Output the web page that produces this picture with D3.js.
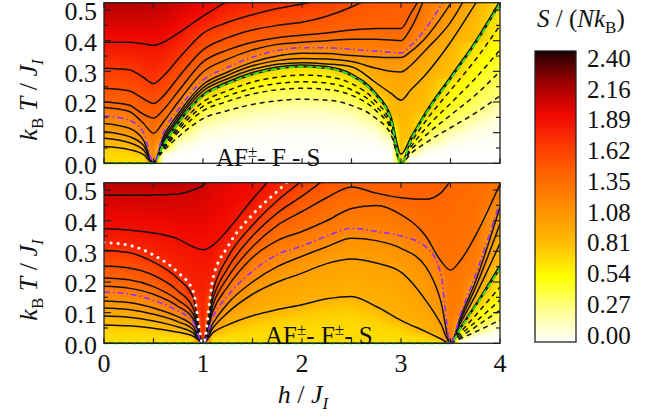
<!DOCTYPE html>
<html>
<head>
<meta charset="utf-8">
<script src="https://cdn.jsdelivr.net/npm/d3@7"></script>
<style>
  body { margin: 0; background: #fff; }
  svg text { font-family: "Liberation Serif", "DejaVu Serif", serif; fill: #111; }
</style>
</head>
<body>
<svg id="chart" width="659" height="418" font-family="Liberation Serif, DejaVu Serif, serif"></svg>
<script>
  var n = null

  // axis ticks and colour bar
  var hTicks = [0, 1, 2, 3, 4]
  var tTicks = [0, 0.1, 0.2, 0.3, 0.4, 0.5]
  var barLabels = ["2.40", "2.16", "1.89", "1.62", "1.35", "1.08", "0.81", "0.54", "0.27", "0.00"]
  var barStops = [0, 0.27, 0.54, 0.81, 1.08, 1.35, 1.62, 1.89, 2.16, 2.40, 2.43]
  var barColors = ["#ffffff", "#ffff8c", "#ffff00", "#ffc000", "#ff9400", "#ff6c00",
    "#ff3e00", "#f00800", "#a00000", "#300000", "#000000"]

  // special isentropes
  var greenLevel = 0.69
  var purpleLevel = 1.2
  var whiteLevel = 1.75

  // ---- upper panel: AF± - F - S ----
  var topH = [0, 0.25, 0.4, 0.5, 0.6, 0.75, 1, 1.25, 1.5, 1.75, 2, 2.25, 2.5, 2.75, 2.9, 3, 3.1, 3.25, 3.5, 3.75, 4]
  var topS0 = [0.69, 0.69, 0.69, 1.2, 0, 0, 0, 0, 0, 0, 0, 0, 0, 0, 0, 0.69, 0, 0, 0, 0, 0]
  var topS1 = [2.1, 2.1, 2.08, 2.07, 2.06, 2.0, 1.9, 1.83, 1.72, 1.69, 1.66, 1.6, 1.52, 1.47, 1.45, 1.43, 1.42, 1.26, 1.105, 0.905, 0.7]
  var topLevels = [0.3, 0.4, 0.5, 0.6, 0.69, 0.8, 0.9, 1.0, 1.1, 1.2, 1.3, 1.4, 1.5, 1.65, 1.85]
  var topT = [
    [n, n, n, 0, 0.04, 0.086, 0.146, 0.172, 0.192, 0.204, 0.209, 0.206, 0.189, 0.146, 0.093, 0, 0.032, 0.067, 0.116, 0.164, 0.22],
    [n, n, n, 0, 0.046, 0.101, 0.171, 0.202, 0.226, 0.24, 0.245, 0.241, 0.222, 0.171, 0.109, 0, 0.043, 0.091, 0.157, 0.222, 0.3],
    [n, n, n, 0, 0.049, 0.11, 0.186, 0.22, 0.245, 0.26, 0.266, 0.262, 0.24, 0.185, 0.118, 0, 0.053, 0.114, 0.195, 0.277, 0.37],
    [n, n, n, 0, 0.053, 0.118, 0.2, 0.237, 0.265, 0.281, 0.288, 0.283, 0.26, 0.2, 0.127, 0, 0.065, 0.138, 0.238, 0.337, 0.45],
    [0, 0, 0, 0, 0.06, 0.13, 0.22, 0.26, 0.29, 0.308, 0.315, 0.31, 0.285, 0.22, 0.14, 0, 0.075, 0.16, 0.275, 0.39, 0.52],
    [0.055, 0.045, 0.028, 0, 0.063, 0.134, 0.225, 0.266, 0.296, 0.314, 0.321, 0.316, 0.292, 0.228, 0.152, 0.03, 0.085, 0.168, 0.283, 0.398, 0.53],
    [0.082, 0.068, 0.043, 0, 0.07, 0.143, 0.236, 0.276, 0.306, 0.323, 0.328, 0.324, 0.315, 0.262, 0.228, 0.206, 0.24, 0.29, 0.395, 0.52, 0.65],
    [0.103, 0.088, 0.058, 0, 0.078, 0.152, 0.246, 0.287, 0.318, 0.335, 0.342, 0.34, 0.332, 0.31, 0.3, 0.298, 0.32, 0.37, 0.46, 0.6, n],
    [0.13, 0.115, 0.075, 0, 0.087, 0.162, 0.257, 0.298, 0.33, 0.35, 0.359, 0.358, 0.352, 0.347, 0.345, 0.345, 0.365, 0.41, 0.52, n, n],
    [0.155, 0.141, 0.1, 0, 0.1, 0.175, 0.271, 0.313, 0.346, 0.368, 0.377, 0.377, 0.372, 0.366, 0.362, 0.36, 0.385, 0.44, 0.57, n, n],
    [0.182, 0.17, 0.13, 0.098, 0.135, 0.2, 0.298, 0.34, 0.37, 0.388, 0.395, 0.4, 0.405, 0.405, 0.402, 0.4, 0.44, 0.55, n, n, n],
    [0.2, 0.19, 0.16, 0.148, 0.175, 0.235, 0.331, 0.37, 0.395, 0.41, 0.418, 0.425, 0.435, 0.44, 0.44, 0.44, 0.49, 0.57, n, n, n],
    [0.245, 0.237, 0.21, 0.195, 0.22, 0.28, 0.37, 0.41, 0.435, 0.45, 0.46, 0.48, 0.51, 0.55, n, n, n, n, n, n, n],
    [0.31, 0.305, 0.28, 0.26, 0.285, 0.34, 0.424, 0.46, 0.485, 0.505, 0.52, 0.535, n, n, n, n, n, n, n, n, n],
    [0.395, 0.395, 0.39, 0.385, 0.395, 0.425, 0.48, 0.53, n, n, n, n, n, n, n, n, n, n, n, n, n]
  ]

  // ---- lower panel: AF± - F± - S ----
  var botH = [0, 0.25, 0.5, 0.75, 0.9, 1, 1.1, 1.25, 1.5, 1.75, 2, 2.25, 2.5, 2.75, 3, 3.25, 3.4, 3.5, 3.6, 3.75, 4]
  var botS0 = [0.69, 0.69, 0.69, 0.69, 0.69, 1.75, 0.69, 0.69, 0.69, 0.69, 0.69, 0.69, 0.69, 0.69, 0.69, 0.69, 0.69, 1.25, 0, 0, 0]
  var botS1 = [2.08, 2.08, 2.07, 2.06, 2.04, 2.01, 1.96, 1.93, 1.88, 1.77, 1.64, 1.49, 1.41, 1.43, 1.43, 1.43, 1.42, 1.39, 1.37, 1.36, 1.305]
  var botLevels = [0.3, 0.4, 0.5, 0.6, 0.69, 0.8, 0.9, 1.0, 1.1, 1.2, 1.3, 1.4, 1.5, 1.65, 1.75, 1.85, 2.0]
  var botT = [
    [n, n, n, n, n, n, n, n, n, n, n, n, n, n, n, n, n, 0, 0.015, 0.037, 0.076],
    [n, n, n, n, n, n, n, n, n, n, n, n, n, n, n, n, n, 0, 0.021, 0.053, 0.108],
    [n, n, n, n, n, n, n, n, n, n, n, n, n, n, n, n, n, 0, 0.028, 0.069, 0.141],
    [n, n, n, n, n, n, n, n, n, n, n, n, n, n, n, n, n, 0, 0.036, 0.09, 0.184],
    [0, 0, 0, 0, 0, 0, 0, 0, 0, 0, 0, 0, 0, 0, 0, 0, 0, 0, 0.048, 0.12, 0.244],
    [0.06, 0.057, 0.049, 0.036, 0.023, 0, n, n, n, n, n, n, n, n, n, n, n, 0, 0.052, 0.125, 0.255],
    [0.089, 0.085, 0.073, 0.053, 0.034, 0, 0.035, 0.06, 0.09, 0.11, 0.126, 0.145, 0.153, 0.12, 0.075, 0.038, 0.015, 0, 0.065, 0.155, 0.326],
    [0.115, 0.11, 0.095, 0.07, 0.045, 0, 0.05, 0.1, 0.16, 0.2, 0.229, 0.26, 0.275, 0.262, 0.232, 0.14, 0.065, 0, 0.075, 0.18, 0.39],
    [0.138, 0.133, 0.115, 0.086, 0.056, 0, 0.065, 0.13, 0.2, 0.25, 0.284, 0.315, 0.343, 0.335, 0.31, 0.25, 0.14, 0, 0.085, 0.2, 0.445],
    [0.167, 0.161, 0.14, 0.105, 0.07, 0, 0.085, 0.155, 0.235, 0.29, 0.317, 0.35, 0.375, 0.365, 0.35, 0.315, 0.23, 0, 0.095, 0.22, 0.462],
    [0.186, 0.18, 0.16, 0.12, 0.08, 0, 0.105, 0.185, 0.28, 0.335, 0.365, 0.4, 0.44, 0.45, 0.42, 0.35, 0.27, 0.239, 0.27, 0.35, 0.52],
    [0.213, 0.207, 0.185, 0.14, 0.095, 0, 0.125, 0.215, 0.315, 0.385, 0.43, 0.475, 0.51, 0.49, 0.475, 0.47, 0.49, 0.53, n, n, n],
    [0.252, 0.246, 0.222, 0.17, 0.115, 0, 0.145, 0.245, 0.35, 0.425, 0.48, 0.54, n, n, n, n, n, n, n, n, n],
    [0.304, 0.296, 0.265, 0.21, 0.15, 0, 0.17, 0.28, 0.385, 0.465, 0.53, n, n, n, n, n, n, n, n, n, n],
    [0.329, 0.32, 0.288, 0.23, 0.17, 0, 0.21, 0.315, 0.42, 0.496, 0.57, n, n, n, n, n, n, n, n, n, n],
    [0.374, 0.37, 0.36, 0.34, 0.315, 0.305, 0.32, 0.37, 0.47, 0.56, n, n, n, n, n, n, n, n, n, n, n],
    [0.483, 0.483, 0.484, 0.487, 0.5, 0.515, 0.55, n, n, n, n, n, n, n, n, n, n, n, n, n, n]
  ]

  var tMax = 0.524
  var svg = d3.select("#chart")
  var x = d3.scaleLinear().domain([0, 4]).range([104, 500])
  var color = d3.scaleLinear().domain(barStops).range(barColors).clamp(true)

  var panels = [
    { id: "top", h: topH, s0: topS0, s1: topS1, lv: topLevels, t: topT, bottom: 163.3, top: 2.7, label: ["AF", "±", "- F - S"], lx: 216, ly: 157 },
    { id: "bot", h: botH, s0: botS0, s1: botS1, lv: botLevels, t: botT, bottom: 343.3, top: 182.7, label: ["AF", "±", "- F", "±", "- S"], lx: 265, ly: 335 }
  ]

  // entropy against temperature in one column, through the isentrope crossings
  function profile(p, i) {
    var pts = [[0, p.s0[i]], [tMax, p.s1[i]]]
    p.lv.forEach(function (level, k) {
      if (p.t[k][i] != null) pts.push([p.t[k][i], level])
    })
    pts.sort(function (a, b) { return a[0] - b[0] || a[1] - b[1] })
    var out = []
    pts.forEach(function (q) {
      var last = out[out.length - 1]
      if (last && q[0] === last[0]) { last[1] = Math.max(last[1], q[1]); return }
      if (last && q[1] <= last[1]) return
      out.push(q.slice())
    })
    var lin = d3.scaleLinear().domain(out.map(function (q) { return q[0] }))
      .range(out.map(function (q) { return q[1] })).clamp(true)
    // activated (slow) onset below the first isentrope
    return function (T) {
      if (out.length > 1 && T < out[1][0]) {
        var u = T / out[1][0]
        return out[0][1] + (out[1][1] - out[0][1]) * u * u * u
      }
      return lin(T)
    }
  }

  function lineStyle(level) {
    if (level === greenLevel) return "green"
    if (level === purpleLevel) return "purple"
    if (level === whiteLevel) return "white"
    return level < greenLevel ? "dashed" : "solid"
  }

  panels.forEach(function (p) {
    var y = d3.scaleLinear().domain([0, tMax]).range([p.bottom, p.top])
    var cw = Math.round(x(4) - x(0))
    var ch = Math.round(p.bottom - p.top)

    // heat map
    var cols = p.h.map(function (_, i) {
      var f = profile(p, i)
      return d3.range(ch).map(function (r) { return f(y.invert(p.top + (r + 0.5) * (p.bottom - p.top) / ch)) })
    })
    var canvas = document.createElement("canvas")
    canvas.width = cw
    canvas.height = ch
    var ctx = canvas.getContext("2d")
    var img = ctx.createImageData(cw, ch)
    for (var c = 0; c < cw; c++) {
      var h = x.invert(x(0) + c + 0.5)
      var i = Math.min(Math.max(d3.bisectRight(p.h, h) - 1, 0), p.h.length - 2)
      var w = (h - p.h[i]) / (p.h[i + 1] - p.h[i])
      for (var r = 0; r < ch; r++) {
        var s = cols[i][r] * (1 - w) + cols[i + 1][r] * w
        var rgb = d3.rgb(color(s))
        var k = (r * cw + c) * 4
        img.data[k] = rgb.r
        img.data[k + 1] = rgb.g
        img.data[k + 2] = rgb.b
        img.data[k + 3] = 255
      }
    }
    ctx.putImageData(img, 0, 0)
    svg.append("image")
      .attr("x", x(0)).attr("y", p.top)
      .attr("width", x(4) - x(0)).attr("height", p.bottom - p.top)
      .attr("preserveAspectRatio", "none")
      .attr("href", canvas.toDataURL())

    svg.append("clipPath").attr("id", "clip-" + p.id)
      .append("rect")
      .attr("x", x(0)).attr("y", p.top)
      .attr("width", x(4) - x(0)).attr("height", p.bottom - p.top + 2)

    // isentropes
    var line = d3.line()
      .defined(function (d) { return d[1] != null })
      .x(function (d) { return x(d[0]) })
      .y(function (d) { return y(d[1]) })
      .curve(d3.curveMonotoneX)
    var g = svg.append("g").attr("clip-path", "url(#clip-" + p.id + ")").attr("fill", "none")
    var order = { dashed: 0, solid: 1, green: 2, purple: 3, white: 4 }
    var rows = p.lv.map(function (level, k) {
      return { level: level, style: lineStyle(level), pts: p.h.map(function (hh, i) { return [hh, p.t[k][i]] }) }
    }).sort(function (a, b) { return order[a.style] - order[b.style] })

    rows.forEach(function (row) {
      var d = line(row.pts)
      if (row.style === "dashed") {
        g.append("path").attr("d", d).attr("stroke", "#111").attr("stroke-width", 1.5).attr("stroke-dasharray", "5,4")
      } else if (row.style === "solid") {
        g.append("path").attr("d", d).attr("stroke", "#111").attr("stroke-width", 1.5)
      } else if (row.style === "green") {
        g.append("path").attr("d", d).attr("stroke", "#111").attr("stroke-width", 1.5)
        g.append("path").attr("d", d).attr("stroke", "#33dd22").attr("stroke-width", 2).attr("stroke-dasharray", "6,3")
      } else if (row.style === "purple") {
        g.append("path").attr("d", d).attr("stroke", "#9933ee").attr("stroke-width", 1.7).attr("stroke-dasharray", "6,3,1.5,3")
      } else {
        g.append("path").attr("d", d).attr("stroke", "#fff").attr("stroke-width", 3)
          .attr("stroke-linecap", "round").attr("stroke-dasharray", "0.1,7")
      }
    })

    // frame and ticks
    svg.append("rect")
      .attr("x", x(0)).attr("y", p.top)
      .attr("width", x(4) - x(0)).attr("height", p.bottom - p.top)
      .attr("fill", "none").attr("stroke", "#222").attr("stroke-width", 1.3)
    var tk = svg.append("g").attr("stroke", "#222").attr("stroke-width", 1.2)
    d3.range(0, 4.001, 0.5).forEach(function (v) {
      tk.append("line").attr("x1", x(v)).attr("x2", x(v)).attr("y1", p.bottom).attr("y2", p.bottom - 5)
      tk.append("line").attr("x1", x(v)).attr("x2", x(v)).attr("y1", p.top).attr("y2", p.top + 5)
    })
    d3.range(0, 0.5001, 0.05).forEach(function (v, j) {
      var len = j % 2 === 0 ? 7 : 4
      tk.append("line").attr("x1", x(0)).attr("x2", x(0) + len).attr("y1", y(v)).attr("y2", y(v))
      tk.append("line").attr("x1", x(4)).attr("x2", x(4) - len).attr("y1", y(v)).attr("y2", y(v))
    })

    svg.append("g").selectAll("text").data(tTicks).enter().append("text")
      .attr("x", 97).attr("y", function (d) { return y(d) })
      .attr("dy", "0.4em").attr("text-anchor", "end").attr("font-size", 26)
      .text(d3.format(".1f"))

    // y axis title
    var yt = svg.append("text")
      .attr("transform", "translate(37," + ((p.top + p.bottom) / 2 + 17) + ") rotate(-90)")
      .attr("text-anchor", "middle").attr("font-size", 26)
    yt.append("tspan").attr("font-style", "italic").text("k")
    yt.append("tspan").attr("font-size", 17).attr("dy", 6).text("B")
    yt.append("tspan").attr("font-style", "italic").attr("dy", -6).text(" T")
    yt.append("tspan").text(" / ")
    yt.append("tspan").attr("font-style", "italic").text("J")
    yt.append("tspan").attr("font-style", "italic").attr("font-size", 17).attr("dy", 6).text("I")

    // phase sequence label
    var lab = svg.append("text").attr("x", p.lx).attr("y", p.ly).attr("font-size", 25)
    p.label.forEach(function (part) {
      if (part === "±") lab.append("tspan").attr("font-size", 17).attr("dy", -9).text(part)
      else lab.append("tspan").attr("dy", lab.selectAll("tspan").size() ? 9 : 0).text(part)
    })
  })

  // x axis labels (lower panel)
  svg.append("g").selectAll("text").data(hTicks).enter().append("text")
    .attr("x", function (d) { return x(d) }).attr("y", 372)
    .attr("text-anchor", "middle").attr("font-size", 26)
    .text(function (d) { return d })

  var xt = svg.append("text").attr("x", 303).attr("y", 403).attr("text-anchor", "middle").attr("font-size", 26)
  xt.append("tspan").attr("font-style", "italic").text("h")
  xt.append("tspan").text(" / ")
  xt.append("tspan").attr("font-style", "italic").text("J")
  xt.append("tspan").attr("font-style", "italic").attr("font-size", 17).attr("dy", 6).text("I")

  // colour bar
  var barY = d3.scaleLinear().domain([0, 2.43]).range([342, 51])
  var grad = svg.append("defs").append("linearGradient").attr("id", "bar")
    .attr("x1", 0).attr("y1", 1).attr("x2", 0).attr("y2", 0)
  d3.range(0, 2.4301, 0.03).forEach(function (v) {
    grad.append("stop").attr("offset", v / 2.43).attr("stop-color", color(v))
  })
  svg.append("rect")
    .attr("x", 535).attr("y", barY(2.43)).attr("width", 41).attr("height", barY(0) - barY(2.43))
    .attr("fill", "url(#bar)").attr("stroke", "#222").attr("stroke-width", 1.3)
  var labelY = d3.scalePoint().domain(barLabels).range([58, 335])
  svg.append("g").selectAll("text").data(barLabels).enter().append("text")
    .attr("x", 587).attr("y", function (d) { return labelY(d) }).attr("dy", "0.35em")
    .attr("font-size", 25).text(function (d) { return d })

  var bt = svg.append("text").attr("x", 537).attr("y", 27).attr("font-size", 25)
  bt.append("tspan").attr("font-style", "italic").text("S")
  bt.append("tspan").text(" / (")
  bt.append("tspan").attr("font-style", "italic").text("Nk")
  bt.append("tspan").attr("font-size", 17).attr("dy", 6).text("B")
  bt.append("tspan").attr("dy", -6).text(")")
</script>
</body>
</html>
